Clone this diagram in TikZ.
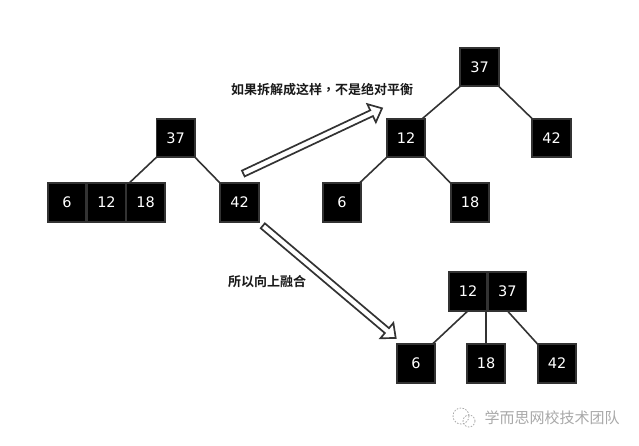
\documentclass[tikz,border=0pt]{standalone}
\usepackage{fontspec}
\setmainfont{DejaVu Sans}
\newfontfamily\cjk{Noto Sans CJK SC}
\newfontfamily\cjkb{Noto Sans CJK SC Bold}
\newfontfamily\cjkc{Noto Sans CJK TC Bold}
\usetikzlibrary{calc}
\definecolor{edgegray}{HTML}{333333}
\definecolor{markgray}{HTML}{A8A8A8}
\tikzset{
  keybox/.style={draw=edgegray,fill=black,line width=1.6pt,minimum size=38.5pt,inner sep=0pt,outer sep=0pt,text=white,font=\fontsize{14.5}{16}\selectfont},
  link/.style={draw=edgegray,line width=1.6pt},
  hollow/.style={draw=edgegray,fill=white,line width=1.7pt,line join=miter},
  captiontext/.style={inner sep=0pt,font=\cjkb\fontsize{13}{15}\selectfont,text=black!90},
  marktext/.style={inner sep=0pt,font=\cjk\fontsize{15}{17}\selectfont,text=markgray},
  wechat/.style={draw=markgray,line width=0.8pt,dash pattern=on 1.6pt off 1.4pt}
}
\newcommand{\hollowarrow}[2]{%
  \draw[hollow]
    ($(#1)!3.2pt!90:(#2)$) --
    ($($(#2)!11.5pt!(#1)$)!3.2pt!90:(#2)$) --
    ($($(#2)!11.5pt!(#1)$)!10pt!90:(#2)$) --
    (#2) --
    ($($(#2)!11.5pt!(#1)$)!10pt!-90:(#2)$) --
    ($($(#2)!11.5pt!(#1)$)!3.2pt!-90:(#2)$) --
    ($(#1)!3.2pt!-90:(#2)$) -- cycle;}
\begin{document}
\begin{tikzpicture}[x=1pt,y=-1pt]
\useasboundingbox (0,0) rectangle (639,445);
% left tree
\node[keybox] (a37) at (175.7,138) {37};
\node[keybox] (a6) at (67,202.5) {6};
\node[keybox] (a12) at (106.5,202.5) {12};
\node[keybox] (a18) at (145.7,202.5) {18};
\node[keybox] (a42) at (239.5,202.5) {42};
\draw[link] (a37.south west) -- ($(a18.north west)+(2.5,0)$);
\draw[link] (a37.south east) -- (a42.north west);
% upper right tree
\node[keybox] (b37) at (479.5,67) {37};
\node[keybox] (b12) at (406,138) {12};
\node[keybox] (b42) at (551.5,138) {42};
\node[keybox] (b6) at (342,202.5) {6};
\node[keybox] (b18) at (470,202.5) {18};
\draw[link] (b37.south west) -- ($(b12.north east)+(-3,0)$);
\draw[link] (b37.south east) -- (b42.north west);
\draw[link] (b12.south west) -- ($(b6.north east)+(-2,0)$);
\draw[link] (b12.south east) -- (b18.north west);
% lower right tree
\node[keybox] (c12) at (468,291.5) {12};
\node[keybox] (c37) at (507.3,291.5) {37};
\node[keybox] (c6) at (416,363.5) {6};
\node[keybox] (c18) at (486,363.5) {18};
\node[keybox] (c42) at (557,363.5) {42};
\draw[link] (c12.south) -- ($(c6.north east)+(-3,0)$);
\draw[link] (c18.north) -- (c18.north |- c12.south);
\draw[link] (c37.south) -- (c42.north west);
% arrows
\coordinate (upS) at (243.3,173.5);
\coordinate (upE) at (382,108.3);
\coordinate (dnS) at (262.8,225.8);
\coordinate (dnE) at (395.7,338);
\hollowarrow{upS}{upE}
\hollowarrow{dnS}{dnE}
% captions
\node[captiontext,anchor=west] (cap1) at (231,90) {如果拆解成这样{\cjkc ，}不是绝对平衡};
\node[captiontext,anchor=west] (cap2) at (228,282) {所以向上融合};
% watermark
\node[marktext,anchor=west] (wm) at (484.5,417.5) {学而思网校技术团队};
\draw[wechat] (461,416) circle (8);
\draw[wechat] (469,421) circle (6);
\end{tikzpicture}
\end{document}
